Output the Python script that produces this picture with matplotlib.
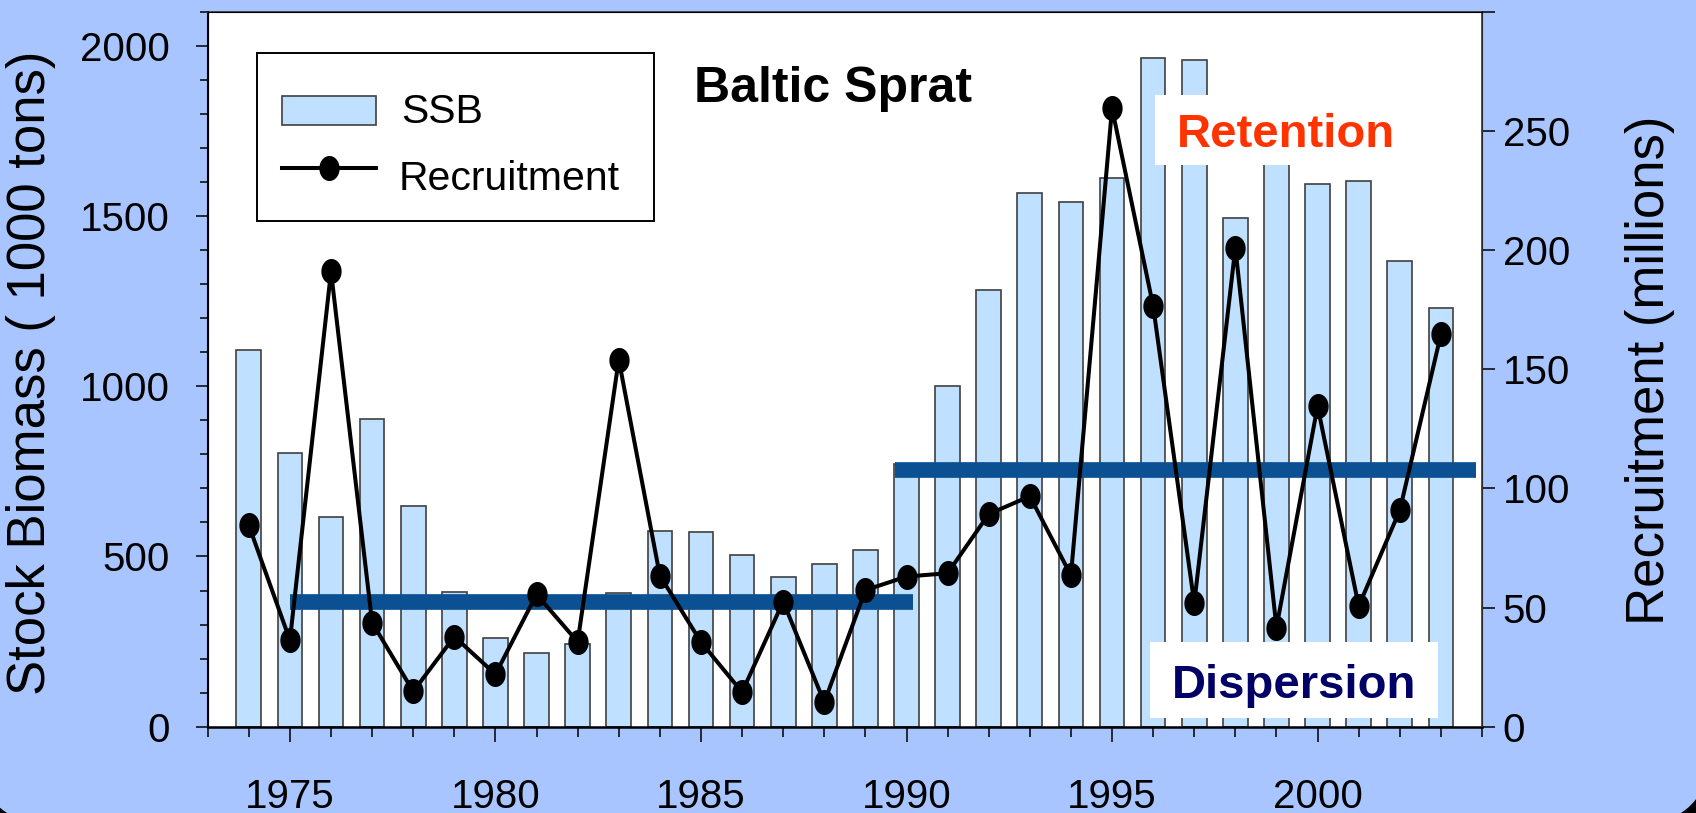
import numpy as np
import matplotlib
matplotlib.use('Agg')
import matplotlib.pyplot as plt
from matplotlib.path import Path
from matplotlib.patches import Rectangle, FancyBboxPatch
from matplotlib.lines import Line2D
from matplotlib.transforms import IdentityTransform

plt.rcParams['font.family'] = ['Liberation Sans', 'DejaVu Sans']

# data
years = list(range(1974, 2004))
ssb = [1105, 805, 617, 904, 649, 395, 261, 217, 244, 394,
       576, 573, 504, 441, 479, 518, 772, 1000, 1284, 1568,
       1540, 1611, 1965, 1958, 1493, 1700, 1595, 1604, 1367, 1230]
recruitment = [84.5, 36.3, 191, 43.7, 14.8, 37.8, 22, 55.5, 35.6, 154,
               63.4, 35.5, 14.5, 52.5, 10.2, 57.3, 63, 64.4, 89.2, 96.7,
               63.5, 259.5, 176.5, 51.8, 201, 41.6, 134.5, 50.6, 90.8, 164.6]
# mean recruitment levels per period (right axis)
periods = [(1975.0, 1990.16), (1989.72, 2003.85)]
period_means = [52.4, 107.5]

bg = '#A8C5FF'
bar_col = '#C0E0FF'
band_col = '#0A5092'

W, H = 1696, 813
fig = plt.figure(figsize=(W / 100, H / 100), dpi=100)
fig.patch.set_facecolor('black')
fig.add_artist(FancyBboxPatch((-23, -12), W + 38, H + 112,
                              boxstyle='round,pad=0,rounding_size=80',
                              facecolor=bg, edgecolor='none',
                              transform=IdentityTransform(), zorder=-5))

def fx(px):
    return px / W

def fy(py):
    return 1 - py / H

ax = fig.add_axes([fx(207.7), fy(726.7), (1482 - 207.7) / W, (726.7 - 11.7) / H])
ax.set_facecolor('white')
ax.bar(years, ssb, width=0.6, color=bar_col, edgecolor='#404040', linewidth=1.2, zorder=2)
ax.set_xlim(1973, 2004)
ax.set_ylim(0, 2100)
ax.set_yticks(range(0, 2001, 500))
ax.set_yticks(range(0, 2101, 100), minor=True)
ax.set_xticks(range(1975, 2001, 5))
ax.set_xticks(range(1973, 2005), minor=True)
ax.tick_params(axis='x', which='major', direction='out', length=11, width=1.1,
               labelsize=29, pad=26)
ax.tick_params(axis='x', which='minor', direction='out', length=7, width=1.1)
ax.tick_params(axis='y', which='major', direction='out', length=9, width=1.1,
               labelsize=29, pad=18)
ax.tick_params(axis='y', which='minor', direction='out', length=5.5, width=1.1)
ax.spines['left'].set_linewidth(1.5)
ax.spines['bottom'].set_linewidth(1.8)
ax.spines['top'].set_color('#333333')
ax.spines['top'].set_linewidth(1.2)

ax2 = ax.twinx()
ax2.set_ylim(0, 300)
ax2.set_yticks(range(0, 301, 50))
ax2.set_yticklabels([str(v) for v in range(0, 251, 50)] + [''])
ax2.tick_params(axis='y', direction='out', length=9, width=1.1, labelsize=29, pad=6)
ax2.spines['right'].set_color('#333333')
ax2.spines['right'].set_linewidth(1.2)

for (x0, x1), m in zip(periods, period_means):
    ax2.plot([x0, x1], [m, m], color=band_col, linewidth=11.3,
             solid_capstyle='butt', zorder=1)

t = np.linspace(0, 2 * np.pi, 60)
ellipse = Path(np.column_stack([0.8 * np.cos(t), np.sin(t)]), closed=True)
ax2.plot(years, recruitment, color='black', linewidth=2.9, marker=ellipse,
         markersize=17, markerfacecolor='black', zorder=3)

# legend, drawn by hand
fig.add_artist(Rectangle((fx(256.7), fy(221)), (654.3 - 256.7) / W, (221 - 52.7) / H,
                         transform=fig.transFigure, facecolor='white',
                         edgecolor='black', linewidth=1.4, zorder=5))
fig.add_artist(Rectangle((fx(281.7), fy(125.3)), (376 - 281.7) / W, (125.3 - 95.7) / H,
                         transform=fig.transFigure, facecolor=bar_col,
                         edgecolor='#404040', linewidth=1.2, zorder=6))
fig.add_artist(Line2D([fx(281.7), fx(328.8), fx(376)], [fy(167.7)] * 3,
                      transform=fig.transFigure, color='black', linewidth=2.9,
                      marker=ellipse, markevery=[1], markersize=17, zorder=6))
fig.text(fx(401), fy(123.3), 'SSB', ha='left', va='baseline', fontsize=29.5, zorder=6)
fig.text(fx(399), fy(190), 'Recruitment', ha='left', va='baseline', fontsize=29.5, zorder=6)

fig.text(0.0183, 0.541, 'Stock Biomass ( 1000 tons)', rotation=90,
         ha='center', va='center', fontsize=38)
fig.text(fx(1650), 0.545, 'Recruitment (millions)', rotation=90,
         ha='center', va='center', fontsize=38)

fig.text(fx(833), fy(102), 'Baltic Sprat', ha='center', va='baseline',
         fontsize=36, fontweight='bold', zorder=6)

fig.add_artist(Rectangle((fx(1155), fy(165)), (1406 - 1155) / W, 70 / H,
                         transform=fig.transFigure, facecolor='white',
                         edgecolor='none', zorder=5))
fig.text(fx(1286), fy(147), 'Retention', ha='center', va='baseline',
         fontsize=34, fontweight='bold', color='#FF3300', zorder=6)

fig.add_artist(Rectangle((fx(1150), fy(718)), (1438 - 1150) / W, 76 / H,
                         transform=fig.transFigure, facecolor='white',
                         edgecolor='none', zorder=5))
fig.text(fx(1294), fy(698), 'Dispersion', ha='center', va='baseline',
         fontsize=34, fontweight='bold', color='#000066', zorder=6)

fig.savefig('out.png', dpi=100, facecolor=fig.get_facecolor())
